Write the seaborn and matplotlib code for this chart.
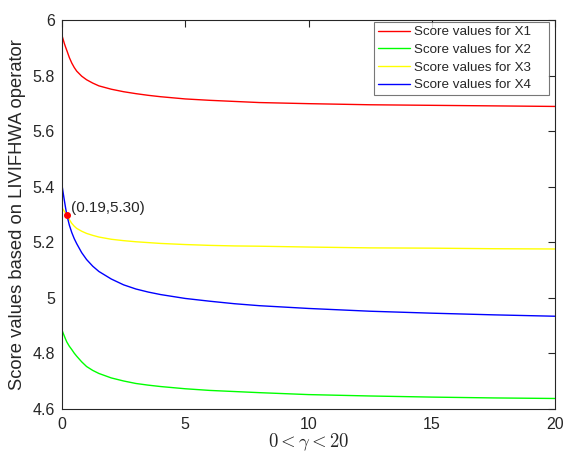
import pandas as pd
import matplotlib
matplotlib.use("Agg")
import matplotlib.pyplot as plt
import seaborn as sns

# values
gamma = [0, 0.05, 0.1, 0.15, 0.2, 0.3, 0.4, 0.5, 0.6, 0.8, 1.0, 1.25, 1.5, 2, 2.5, 3, 3.5,
         4, 5, 6, 7, 8, 10, 12.5, 15, 17.5, 20]
x1 = [5.945, 5.93, 5.915, 5.902, 5.89, 5.865, 5.845, 5.829, 5.816, 5.798, 5.785, 5.773,
      5.763, 5.751, 5.742, 5.735, 5.729, 5.724, 5.716, 5.711, 5.707, 5.703, 5.699, 5.695,
      5.693, 5.691, 5.689]
x2 = [4.885, 4.873, 4.862, 4.851, 4.841, 4.826, 4.814, 4.801, 4.790, 4.770, 4.753, 4.739,
      4.728, 4.712, 4.701, 4.692, 4.686, 4.681, 4.673, 4.667, 4.663, 4.659, 4.652, 4.647,
      4.643, 4.640, 4.638]
x3 = [5.325, 5.318, 5.311, 5.305, 5.299, 5.282, 5.268, 5.258, 5.250, 5.240, 5.232, 5.225,
      5.219, 5.211, 5.206, 5.202, 5.199, 5.196, 5.192, 5.189, 5.187, 5.186, 5.183, 5.180,
      5.179, 5.177, 5.176]
x4 = [5.407, 5.378, 5.350, 5.323, 5.298, 5.262, 5.235, 5.213, 5.195, 5.163, 5.138, 5.114,
      5.095, 5.068, 5.047, 5.032, 5.021, 5.012, 4.998, 4.988, 4.979, 4.972, 4.962, 4.952,
      4.945, 4.939, 4.934]
labels = ["Score values for X1", "Score values for X2", "Score values for X3", "Score values for X4"]
colors = ["#ff0000", "#00ff00", "#ffff00", "#0000ff"]
cross_pt = (0.19, 5.30)

rows = []
for lab, ys in zip(labels, [x1, x2, x3, x4]):
    rows.append(pd.DataFrame({"gamma": gamma, "score": ys, "series": lab}))
df = pd.concat(rows, ignore_index=True)

sns.set_style("white")
plt.rcParams["font.family"] = ["Liberation Sans", "DejaVu Sans"]
plt.rcParams["mathtext.fontset"] = "cm"

fig = plt.figure(figsize=(5.63, 4.55), dpi=100)
ax = fig.add_axes([0.110, 0.101, 0.876, 0.855])

sns.lineplot(data=df, x="gamma", y="score", hue="series", hue_order=labels,
             palette=colors, linewidth=1.0, ax=ax, legend=False)

ax.plot([cross_pt[0]], [cross_pt[1]], "o", color="red", markersize=4)
ax.annotate("(%.2f,%.2f)" % cross_pt, xy=cross_pt, xytext=(3.5, 5), textcoords="offset points",
            fontsize=11, color="#262626", va="center")

ax.set_xlim(0, 20)
ax.set_ylim(4.6, 6)
ax.set_xticks([0, 5, 10, 15, 20])
ax.set_yticks([4.6, 4.8, 5.0, 5.2, 5.4, 5.6, 5.8, 6.0])
ax.set_yticklabels(["4.6", "4.8", "5", "5.2", "5.4", "5.6", "5.8", "6"])
ax.tick_params(direction="in", length=5, width=0.8, top=True, right=True,
               labelsize=11.5, colors="#262626", pad=5)
ax.tick_params(axis="x", pad=6)
for s in ax.spines.values():
    s.set_color("#262626")
    s.set_linewidth(0.8)
    s.set_visible(True)

ax.set_xlabel(r"$0<\gamma<20$", fontsize=13.5, color="#262626", labelpad=-1)
ax.set_ylabel("Score values based on LIVIFHWA operator", fontsize=13.2, color="#262626", labelpad=5)

handles = [plt.Line2D([], [], color=c, linewidth=1.0) for c in colors]
leg = ax.legend(handles, labels, loc="upper left", bbox_to_anchor=(0.633, 0.995, 0.355, 0.0),
                mode="expand", borderaxespad=0, fontsize=9.6, frameon=True, fancybox=False,
                handlelength=2.4, handletextpad=0.3, borderpad=0.3, labelspacing=0.4)
leg.get_frame().set_edgecolor("#555555")
leg.get_frame().set_linewidth(0.8)

fig.savefig("out.png", dpi=100)
plt.close()
